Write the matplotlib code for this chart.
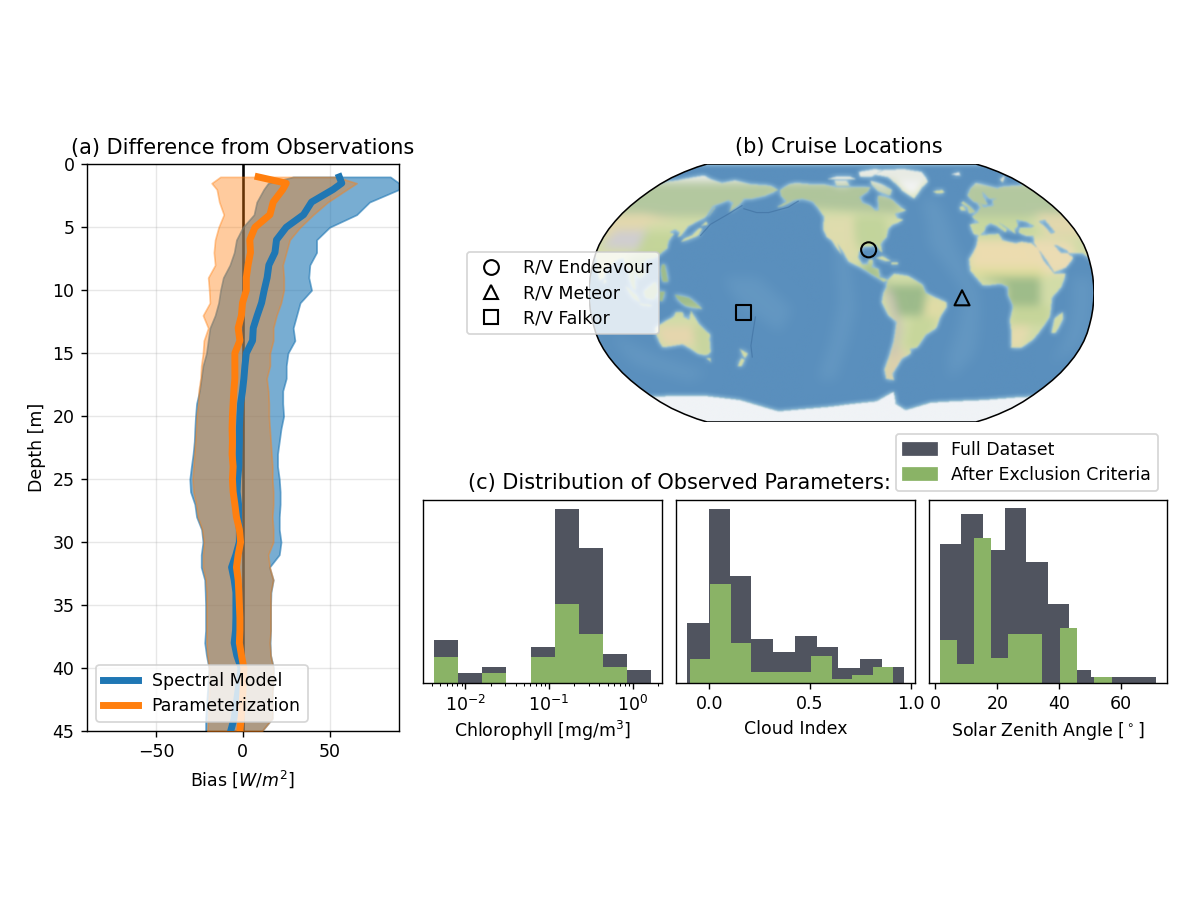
import matplotlib

matplotlib.use("Agg")
import matplotlib.pyplot as plt
import numpy as np
from matplotlib.colors import to_rgb
from matplotlib.lines import Line2D
from matplotlib.patches import Patch, Polygon
from matplotlib.path import Path

# ---- panel a: bias profiles ----
depth = [1, 1.5, 2] + list(range(3, 46))
spectral = [55.6, 57, 52, 39.6, 35, 25, 19.4, 18.5, 15, 14, 12.3, 10.8, 8.3, 6, 5.6, 2, 1.2, 0.6, -0.2, -1.3,
            -1.7, -2, -2, -2.2, -2.3, -3, -3.3, -2.5, -2.5, -2, -2, -4, -6.5, -5, -4, -4, -4, -4.2, -5, -3.5,
            -1, -2, -3, -4, -5, -7]
spectral_low = [29, 14.6, 12, 8, 6.4, 0, -3.7, -5, -7.5, -11.3, -12.9, -14, -16, -19, -20, -21, -23, -24, -25,
                -26.7, -27.3, -27.7, -28, -28.7, -29.7, -30.6, -30.2, -27.7, -26.7, -23.8, -23, -24, -24, -22,
                -21.7, -21.5, -21.5, -21.5, -22, -21, -19.6, -20, -20.5, -21, -21.5, -21.5]
spectral_high = [85, 90, 90, 73, 65.6, 50, 42.5, 42.5, 38.6, 38, 39.6, 33, 31, 29, 30, 26, 25, 25, 23, 23, 23.5,
                 22, 21, 20, 20, 21, 21.5, 21.5, 21, 21, 22, 21, 15.3, 17.5, 16.2, 16, 16, 16, 15.7, 16, 17.7,
                 17.5, 17, 17, 17, 11]
param = [8.8, 25, 23, 17.5, 15.6, 7, 4, 4.4, 3, 2, 2, -0.2, -0.8, -2.7, -1.7, -4.6, -4.6, -4.6, -5.2, -5.6, -6,
         -6.2, -6, -6.2, -5.6, -6, -5.6, -4.6, -3.7, -2, -1.3, -2.7, -3.7, -2.7, -2.3, -2, -1.7, -1.7, -2, -0.8,
         0.6, 0.3, 0, -0.5, -1, -1.7]
param_low = [-13, -18, -15, -13.6, -11, -14, -16, -16.7, -16, -20, -19.4, -19, -23, -20, -22.5, -23, -24, -24.4,
             -25.5, -25.8, -26.7, -27, -27.5, -28, -28.5, -29, -28.5, -27, -26, -23.5, -22.5, -23, -23, -21.5,
             -21, -21, -21, -21, -21, -20.5, -19.5, -19.5, -19.5, -20, -20, -20.5]
param_high = [54, 65.6, 60, 49, 40.6, 33, 27, 25, 23, 23.6, 23.6, 22, 19.4, 17.5, 17.5, 15.6, 15.6, 13.7, 14.6,
              15, 15, 15.5, 16, 16.5, 17, 17, 17.5, 17.5, 17, 17.5, 17.5, 14.6, 15.5, 17.5, 16, 16, 16, 16, 15.5,
              16, 17.5, 17.5, 17, 17, 17, 11]

# ---- panel c: histograms (heights in counts, edges in data units) ----
chl_edges = [0.00422, 0.00820, 0.0159, 0.0310, 0.0601, 0.117, 0.227, 0.441, 0.857, 1.66]
chl_full = [12.8, 2.8, 4.8, 0, 10.8, 52.2, 40.3, 8.7, 3.7]
chl_kept = [7.8, 0, 3, 0, 7.8, 23.6, 14.6, 4.8, 0]

cloud_edges_full = [-0.111, -0.003, 0.104, 0.209, 0.318, 0.425, 0.533, 0.641, 0.750, 0.856, 0.964]
cloud_full = [17.8, 52.2, 32, 13, 9.3, 14.1, 10.6, 4.5, 7, 4.6]
cloud_edges_kept = [-0.098, 0.003, 0.106, 0.207, 0.308, 0.407, 0.507, 0.609, 0.709, 0.810, 0.911]
cloud_kept = [7, 29.6, 11.8, 3.3, 3.3, 3.3, 8.1, 1, 2.2, 4.6]

sza_edges_full = [1.4, 8.4, 15.4, 22.4, 29.3, 36.3, 43.3, 50.3, 57.3, 64.3, 71.3]
sza_full = [41.5, 50.7, 39.8, 52.4, 36.2, 23.6, 3.7, 1.8, 1.8, 1.8]
sza_edges_kept = [1.4, 6.9, 12.5, 18, 23.5, 29, 34.6, 40.2, 45.7, 51.3, 56.9]
sza_kept = [12.7, 5.5, 43.5, 7.3, 14.5, 14.5, 0, 16.3, 0, 1.8]

# ---- panel b: cruise positions [lon, lat] ----
cruise_names = ["R/V Endeavour", "R/V Meteor", "R/V Falkor"]
cruise_lons = [-90, -24, -180]
cruise_lats = [27, -3, -12]
cruise_marks = ["o", "^", "s"]

# coarse coastlines, [lon, lat]
north_america = [(-168, 66), (-162, 70), (-156, 71), (-141, 70), (-128, 70), (-115, 68), (-108, 68), (-95, 68),
                 (-88, 68), (-82, 68), (-85, 65), (-94, 61), (-92, 57), (-85, 55), (-82, 52), (-79, 52), (-78, 56),
                 (-77, 62), (-70, 61), (-65, 59), (-60, 54), (-56, 52), (-66, 50), (-65, 47), (-60, 46), (-66, 44),
                 (-70, 43), (-74, 40), (-76, 35), (-81, 31), (-80, 25), (-82, 27), (-84, 30), (-90, 29), (-94, 29),
                 (-97, 26), (-98, 22), (-95, 18), (-91, 18), (-90, 21), (-87, 21), (-88, 16), (-83, 15), (-83, 10),
                 (-79, 9), (-77, 8), (-80, 7), (-85, 10), (-92, 14), (-96, 16), (-105, 20), (-108, 25), (-113, 31),
                 (-110, 24), (-115, 30), (-117, 33), (-121, 35), (-124, 40), (-124, 48), (-130, 54), (-135, 58),
                 (-145, 60), (-152, 59), (-160, 55), (-165, 54), (-158, 58), (-165, 62)]
greenland = [(-73, 78), (-60, 82), (-35, 83), (-18, 80), (-22, 72), (-32, 68), (-42, 62), (-45, 60), (-52, 65),
             (-55, 70), (-60, 76)]
baffin = [(-80, 73), (-70, 70), (-62, 66), (-66, 62), (-75, 65), (-80, 70)]
victoria = [(-117, 73), (-105, 73), (-102, 69), (-115, 69)]
ellesmere = [(-90, 80), (-70, 83), (-62, 82), (-78, 76), (-90, 76)]
banks = [(-125, 74), (-116, 76), (-100, 76), (-95, 74), (-116, 74)]
south_america = [(-77, 8), (-72, 12), (-62, 10.5), (-52, 5), (-50, 0), (-44, -2.5), (-35, -6), (-35, -9), (-39, -15),
                 (-41, -22), (-48, -26), (-53, -34), (-58, -35), (-57, -38), (-63, -41), (-65, -45), (-68, -51),
                 (-65, -55), (-72, -54), (-75, -48), (-73, -40), (-71, -30), (-70, -18), (-76, -14), (-81, -6),
                 (-80, 0), (-78, 3)]
africa = [(-6, 36), (10, 37), (11, 33), (20, 31), (25, 32), (32, 31), (35, 28), (37, 20), (43, 12), (51, 12), (47, 4),
          (40, -3), (40, -15), (35, -24), (32, -29), (26, -34), (18, -34), (12, -17), (13, -8), (9, -1), (9, 4),
          (4, 6), (-5, 5), (-9, 5), (-17, 14), (-17, 21), (-10, 29)]
eurasia = [(-9, 37), (-9, 43), (-1, 44), (-4, 48), (3, 51), (8, 54), (8, 57), (11, 56), (10, 54), (20, 55), (24, 59),
           (30, 60), (22, 60), (22, 65), (18, 61), (16, 56), (12, 56), (6, 58), (5, 62), (14, 67), (25, 71), (40, 67),
           (44, 68), (60, 69), (68, 69), (72, 72), (80, 73), (100, 77), (113, 74), (130, 71), (140, 73), (160, 70),
           (180, 69), (190, 66), (180, 62), (170, 60), (163, 60), (162, 56), (157, 51), (156, 57), (150, 59),
           (140, 55), (140, 48), (130, 42), (128, 36), (126, 35), (126, 38), (121, 40), (118, 38), (122, 37),
           (120, 33), (121, 28), (114, 22), (108, 21), (106, 18), (109, 12), (105, 9), (101, 13), (103, 2), (101, 3),
           (98, 9), (97, 16), (94, 17), (91, 22), (87, 21), (80, 15), (80, 10), (77, 8), (73, 18), (72, 21), (67, 25),
           (57, 25), (56, 27), (50, 30), (48, 30), (51, 25), (56, 25), (59, 22), (52, 16), (43, 13), (39, 21),
           (35, 28), (34, 31), (36, 36), (30, 36), (26, 38), (29, 41), (38, 41), (41, 42), (37, 45), (30, 46),
           (28, 42), (24, 40), (23, 37), (19, 41), (14, 45), (18, 40), (16, 38), (12, 42), (8, 44), (3, 42), (0, 39),
           (-5, 36)]
australia = [(114, -22), (122, -18), (129, -15), (131, -12), (136, -12), (136, -15), (140, -17), (142, -11),
             (146, -19), (153, -26), (150, -37), (146, -39), (140, -38), (136, -35), (131, -32), (124, -33),
             (115, -34), (114, -27)]
small_islands = [
    [(-5, 50), (1, 51), (0, 54), (-3, 58), (-6, 57), (-3, 54)],
    [(-10, 52), (-6, 52), (-6, 55), (-10, 54)],
    [(-24, 65), (-14, 66), (-14, 64), (-22, 63.5)],
    [(130, 32), (136, 34), (141, 36), (142, 40), (140, 41), (136, 36), (131, 34)],
    [(140, 42), (145, 43), (142, 45)],
    [(142, 46), (143, 54), (142, 54)],
    [(44, -16), (49, -12), (50, -16), (47, -25), (44, -25)],
    [(173, -35), (178, -38), (175, -41), (174, -39)],
    [(172, -41), (174, -42), (170, -46), (167, -46)],
    [(131, -1), (141, -3), (148, -8), (150, -10), (143, -9), (138, -8), (133, -4)],
    [(109, 1), (117, 7), (119, 1), (116, -4), (110, -3)],
    [(95, 5), (104, -2), (106, -6), (101, -3)],
    [(105, -6.5), (114, -7.5), (114, -8.5), (106, -7.5)],
    [(120, 1), (124, 1), (122, -5), (120, -5)],
    [(120, 18), (122, 18), (124, 13), (126, 7), (122, 7), (120, 14)],
    [(-85, 22), (-80, 23), (-74, 20), (-78, 20)],
    [(-74, 19), (-69, 19), (-69, 18), (-74, 18)],
    [(12, 78), (25, 80), (20, 77)],
    [(52, 71), (68, 77), (56, 74)],
    [(80, 9), (82, 7), (80, 6)],
    [(145, -41), (148, -41), (147, -43.5)],
]
caspian = [(47, 45), (53, 46), (54, 38), (50, 37), (49, 41)]
antarctic_lons = [-180, -150, -120, -100, -75, -62, -55, -40, -20, 0, 30, 60, 90, 120, 150, 180]
antarctic_lats = [-78, -76, -74, -72, -70, -63, -72, -77, -71, -70, -69, -67, -66, -66, -69, -78]

# tinted land regions, [lon, lat] and colour
land_regions = [
    ([(-170, 55), (-60, 50), (-60, 72), (-170, 72)], "#b0c59c"),
    ([(-125, 30), (-100, 30), (-100, 48), (-125, 48)], "#dfdcae"),
    ([(-100, 28), (-75, 28), (-75, 48), (-100, 48)], "#c2d49c"),
    ([(-115, 20), (-98, 20), (-98, 32), (-115, 32)], "#dedcab"),
    ([(-95, 8), (-76, 8), (-86, 19), (-95, 19)], "#a9c390"),
    ([(-80, 5), (-50, 5), (-48, -14), (-72, -14)], "#9dbb8b"),
    ([(-50, -3), (-34, -3), (-38, -20), (-52, -20)], "#e0dca6"),
    ([(-60, -15), (-40, -15), (-50, -35), (-62, -35)], "#c7d69b"),
    ([(-75, -35), (-60, -35), (-63, -56), (-75, -56)], "#dcd0ad"),
    ([(-80, 2), (-74, 2), (-66, -22), (-68, -40), (-73, -40), (-72, -20)], "#c9c4b4"),
    ([(-18, 16), (38, 16), (35, 33), (-12, 33)], "#ecdcb0"),
    ([(-17, 16), (40, 16), (40, 10), (-17, 10)], "#dedd9e"),
    ([(-12, 10), (32, 10), (32, -8), (8, -8), (8, 5)], "#9fbc8a"),
    ([(12, -8), (40, -8), (40, -20), (12, -20)], "#c6d59a"),
    ([(12, -20), (27, -20), (27, -35), (14, -35)], "#e5dbae"),
    ([(35, 12), (60, 12), (62, 32), (35, 34)], "#ebdcb4"),
    ([(-10, 36), (40, 36), (40, 48), (-10, 48)], "#c7d79f"),
    ([(-10, 48), (180, 48), (190, 72), (10, 72)], "#b4c8a0"),
    ([(45, 35), (90, 35), (100, 44), (120, 46), (90, 50), (50, 50)], "#e2d8ae"),
    ([(72, 28), (102, 27), (102, 39), (76, 39)], "#d0ced0"),
    ([(70, 8), (90, 8), (90, 27), (68, 27)], "#d6dca8"),
    ([(95, -10), (152, -10), (152, 22), (95, 22)], "#a0bd8c"),
    ([(100, 22), (125, 22), (125, 38), (100, 38)], "#c4d59a"),
    ([(115, -21), (142, -21), (140, -33), (117, -33)], "#e6d6ae"),
    ([(142, -20), (155, -20), (152, -40), (140, -40)], "#c8d59f"),
]
arctic_ice = [greenland, ellesmere]

# lighter mid-ocean ridges, darker trench lines
ocean_ridges = [
    [(-115, 30), (-105, 25), (-100, -10), (-105, -30), (-115, -55), (-130, -55), (-118, -30), (-112, -5)],
    [(-40, 60), (-25, 60), (-25, 30), (-12, 0), (-8, -40), (-18, -55), (-28, -40), (-22, 0), (-45, 30)],
    [(55, 10), (69, 10), (69, -35), (55, -45), (55, -30)],
    [(80, -25), (110, -40), (140, -50), (120, -56), (85, -45)],
    [(165, 10), (190, 10), (215, -10), (205, -25), (175, -5)],
]
trench_tonga = [(-172, -15), (-175, -25), (-178, -33), (-179, -40)]
trench_aleut = [(168, 53), (180, 50.5), (-170, 50.5), (-155, 54), (-148, 58)]
trench_kuril = [(143, 36), (147, 43), (158, 50), (165, 55)]

# Robinson projection table, every 5 degrees of latitude
rob_lat = np.arange(0, 95, 5)
rob_plen = [1, 0.9986, 0.9954, 0.99, 0.9822, 0.973, 0.96, 0.9427, 0.9216, 0.8962, 0.8679, 0.835, 0.7986,
            0.7597, 0.7186, 0.6732, 0.6213, 0.5722, 0.5322]
rob_pdfe = [0, 0.062, 0.124, 0.186, 0.248, 0.31, 0.372, 0.434, 0.4958, 0.5571, 0.6176, 0.6769, 0.7346,
            0.7903, 0.8435, 0.8936, 0.9394, 0.9761, 1]
LON0 = -110
XMAX = 0.8487 * np.pi
YMAX = 1.3523


def robinson(lon, lat):
    lat = np.asarray(lat, dtype=float)
    dlon = ((np.asarray(lon, dtype=float) - LON0 + 180) % 360) - 180
    x = 0.8487 * np.interp(np.abs(lat), rob_lat, rob_plen) * np.radians(dlon)
    y = YMAX * np.sign(lat) * np.interp(np.abs(lat), rob_lat, rob_pdfe)
    return x, y


def blur(a, n):
    for _ in range(2):
        for axis in (0, 1):
            a = sum(np.roll(a, k, axis=axis) for k in range(-n, n + 1)) / (2 * n + 1)
    return a


def inside(poly, lon, lat):
    path = Path(np.array(poly + [poly[0]], dtype=float))
    pts = np.column_stack([lon, lat])
    pts2 = np.column_stack([lon + 360, lat])
    return path.contains_points(pts) | path.contains_points(pts2)


def make_map(nx=760, ny=388):
    xs = np.linspace(-XMAX, XMAX, nx)
    ys = np.linspace(YMAX, -YMAX, ny)
    gx, gy = np.meshgrid(xs, ys)
    lat = np.sign(gy) * np.interp(np.abs(gy) / YMAX, rob_pdfe, rob_lat)
    lon = gx / (0.8487 * np.interp(np.abs(lat), rob_lat, rob_plen))
    lon = ((np.degrees(lon) + LON0 + 180) % 360) - 180
    lon1, lat1 = lon.ravel(), lat.ravel()

    land = np.zeros(lon1.size, dtype=bool)
    polys = [north_america, greenland, baffin, victoria, ellesmere, banks, south_america, africa, eurasia, australia]
    for poly in polys + small_islands:
        land |= inside(poly, lon1, lat1)
    land &= ~inside(caspian, lon1, lat1)
    ant = lat1 < np.interp(lon1, antarctic_lons, antarctic_lats)
    land |= ant

    rgb = np.tile(to_rgb("#d2dca8"), (lon1.size, 1))
    for poly, col in land_regions:
        rgb[inside(poly, lon1, lat1)] = to_rgb(col)
    for poly in arctic_ice:
        rgb[inside(poly, lon1, lat1)] = to_rgb("#f4f5f6")
    rgb[inside(baffin, lon1, lat1) | inside(victoria, lon1, lat1) | inside(banks, lon1, lat1)] = to_rgb("#dde3d6")
    rgb[lat1 > 72] = to_rgb("#e8ebe4")
    rgb[ant] = to_rgb("#f0f3f6")
    rgb = rgb.reshape(ny, nx, 3)
    rgb = np.stack([blur(rgb[:, :, i], 7) for i in range(3)], axis=2)
    rgb[ant.reshape(ny, nx)] = to_rgb("#f0f3f6")

    ridge = np.zeros(lon1.size, dtype=bool)
    for poly in ocean_ridges:
        ridge |= inside(poly, lon1, lat1)
    ridge = blur(ridge.reshape(ny, nx).astype(float), 10)

    mask = land.reshape(ny, nx).astype(float)
    shelf = blur(mask, 4)
    deep = np.array(to_rgb("#5a8fbd"))
    shallow = np.array(to_rgb("#8fbcd8"))
    ocean = deep + (shallow - deep) * np.clip(shelf * 2.0 + ridge * 0.18, 0, 1)[:, :, None]
    m = blur(mask, 1)[:, :, None]
    return rgb * m + ocean * (1 - m)


DARK = "#50545f"
GREEN = "#8ab366"
W, H = 1200, 900


def place(left, top, right, bottom, **kw):
    return fig.add_axes([left / W, 1 - bottom / H, (right - left) / W, (bottom - top) / H], **kw)


fig = plt.figure(figsize=(9.6, 7.2), dpi=125)

# (a)
ax = place(86.7, 164.3, 399, 731)
ax.axvline(0, color="k", lw=1.5, zorder=1)
ax.fill_betweenx(depth, spectral_low, spectral_high, color="C0", alpha=0.6, zorder=2)
ax.fill_betweenx(depth, param_low, param_high, color="C1", alpha=0.4, zorder=3)
ax.plot(spectral, depth, color="C0", lw=4, zorder=4, label="Spectral Model")
ax.plot(param, depth, color="C1", lw=4, zorder=5, label="Parameterization")
ax.set_xlim(-90, 90)
ax.set_ylim(45, 0)
ax.set_xticks([-50, 0, 50])
ax.set_yticks(range(0, 50, 5))
ax.grid(alpha=0.3)
ax.set_axisbelow(True)
ax.set_xlabel(r"Bias [$W/m^2$]")
ax.set_ylabel("Depth [m]")
ax.set_title("(a) Difference from Observations", fontsize=12)
ax.legend(loc="lower left", bbox_to_anchor=(0.03, 0.016), borderaxespad=0, fontsize=10, labelspacing=0.42)

# (b)
mp = place(589, 164, 1094, 422)
mp.set_xlim(-XMAX, XMAX)
mp.set_ylim(-YMAX, YMAX)
mp.set_xticks([])
mp.set_yticks([])
for s in mp.spines.values():
    s.set_visible(False)
edge_lat = np.linspace(-90, 90, 181)
edge_x = 0.8487 * np.pi * np.interp(np.abs(edge_lat), rob_lat, rob_plen)
edge_y = YMAX * np.sign(edge_lat) * np.interp(np.abs(edge_lat), rob_lat, rob_pdfe)
outline = np.concatenate([np.column_stack([edge_x, edge_y]), np.column_stack([-edge_x, edge_y])[::-1]])
clip = Polygon(outline, closed=True, transform=mp.transData, facecolor="none", edgecolor="k", lw=0.9, zorder=3)
im = mp.imshow(make_map(), extent=[-XMAX, XMAX, -YMAX, YMAX], aspect="auto", interpolation="bilinear", zorder=1)
mp.add_patch(clip)
im.set_clip_path(clip)
for trench in [trench_tonga, trench_aleut, trench_kuril]:
    t = np.array(trench, dtype=float)
    tx, ty = robinson(t[:, 0], t[:, 1])
    mp.plot(tx, ty, color="#3f6f9f", lw=0.7, alpha=0.6, zorder=2)
for lon, lat, mark, name in zip(cruise_lons, cruise_lats, cruise_marks, cruise_names):
    x, y = robinson(lon, lat)
    mp.scatter(x, y, marker=mark, s=75, facecolors="none", edgecolors="k", linewidths=1.2, zorder=4)
handles = [Line2D([], [], ls="none", marker=m, ms=8.5, mfc="none", mec="k", mew=1.2) for m in cruise_marks]
mp.legend(handles, cruise_names, loc="upper left", bbox_to_anchor=(467 / W, 1 - 252 / H),
          bbox_transform=fig.transFigure, borderaxespad=0, fontsize=10, labelspacing=0.42)
fig.text(839 / W, 1 - 147 / H, "(b) Cruise Locations", fontsize=12, ha="center", va="center")

# (c)
ax1 = place(423, 499.5, 662, 682.7)
ax1.stairs(chl_full, chl_edges, fill=True, color=DARK)
ax1.stairs(chl_kept, chl_edges, fill=True, color=GREEN)
ax1.set_xscale("log")
ax1.set_xlim(10 ** -2.506, 10 ** 0.35)
ax1.set_ylim(0, 55)
ax1.set_yticks([])
ax1.set_xlabel(r"Chlorophyll [mg/m$^3$]", labelpad=2)

ax2 = place(676, 499.5, 914.5, 682.7)
ax2.stairs(cloud_full, cloud_edges_full, fill=True, color=DARK)
ax2.stairs(cloud_kept, cloud_edges_kept, fill=True, color=GREEN)
ax2.set_xlim(-0.165, 1.018)
ax2.set_ylim(0, 55)
ax2.set_xticks([0, 0.5, 1.0])
ax2.set_yticks([])
ax2.set_xlabel("Cloud Index")

ax3 = place(928.5, 499.5, 1167, 682.7)
ax3.stairs(sza_full, sza_edges_full, fill=True, color=DARK)
ax3.stairs(sza_kept, sza_edges_kept, fill=True, color=GREEN)
ax3.set_xlim(-2.2, 74.8)
ax3.set_ylim(0, 55)
ax3.set_xticks([0, 20, 40, 60])
ax3.set_yticks([])
ax3.set_xlabel(r"Solar Zenith Angle [$^\circ$]")

fig.text(679 / W, 1 - 482.5 / H, "(c) Distribution of Observed Parameters:", fontsize=12, ha="center", va="center")
fig.legend([Patch(color=DARK), Patch(color=GREEN)], ["Full Dataset", "After Exclusion Criteria"],
           loc="upper right", bbox_to_anchor=(1158 / W, 1 - 434 / H), borderaxespad=0, fontsize=10, labelspacing=0.42)

fig.savefig("out.png", dpi=125)
